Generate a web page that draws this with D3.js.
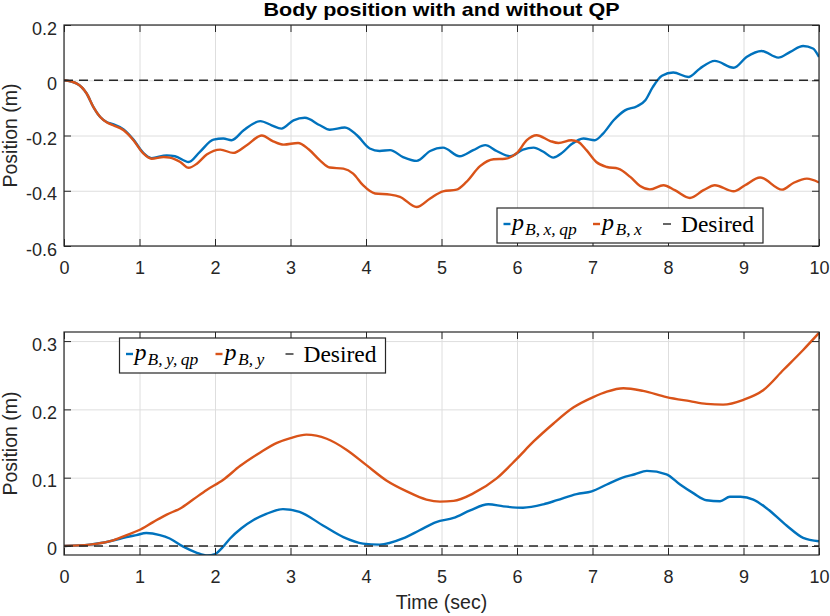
<!DOCTYPE html>
<html><head><meta charset="utf-8">
<script src="https://cdn.jsdelivr.net/npm/d3@7"></script>
<style>body{margin:0;background:#fff} svg{display:block}</style>
</head><body><svg id="c" width="830" height="616"></svg>
<script>
// ---------------- data ----------------
const timeTicks = [0,1,2,3,4,5,6,7,8,9,10];
const timeTickLabels = ["0","1","2","3","4","5","6","7","8","9","10"];
const topYTicks = [-0.6,-0.4,-0.2,0,0.2];
const topYTickLabels = ["-0.6","-0.4","-0.2","0","0.2"];
const botYTicks = [0,0.1,0.2,0.3];
const botYTickLabels = ["0","0.1","0.2","0.3"];
const desiredTime = [0,10];
const desiredPos = [0,0];

// top panel: x position, with QP (blue)
const xqpTime = [0,0.17,0.30,0.39,0.48,0.57,0.65,0.79,0.92,1.05,1.16,1.36,1.47,1.65,1.80,1.98,2.11,2.22,2.38,2.60,2.75,2.88,3.04,3.19,3.39,3.52,3.72,3.88,4.05,4.18,4.32,4.49,4.67,4.85,5.02,5.24,5.42,5.58,5.73,5.91,6.08,6.22,6.35,6.48,6.60,6.72,6.88,7.03,7.14,7.28,7.43,7.59,7.70,7.80,7.92,8.07,8.27,8.42,8.62,8.87,9.04,9.24,9.46,9.62,9.79,9.92,10.0];
const xqpPos = [0,-0.012,-0.048,-0.097,-0.133,-0.152,-0.159,-0.178,-0.215,-0.263,-0.282,-0.272,-0.275,-0.296,-0.259,-0.215,-0.211,-0.217,-0.181,-0.148,-0.163,-0.175,-0.145,-0.136,-0.163,-0.179,-0.171,-0.199,-0.247,-0.256,-0.253,-0.278,-0.292,-0.256,-0.244,-0.275,-0.253,-0.235,-0.256,-0.275,-0.251,-0.244,-0.259,-0.280,-0.262,-0.232,-0.211,-0.217,-0.193,-0.145,-0.109,-0.094,-0.072,-0.024,0.016,0.028,0.012,0.042,0.070,0.045,0.084,0.106,0.082,0.103,0.124,0.115,0.084];
// top panel: x position, without QP (orange)
const xTime = [0,0.17,0.30,0.39,0.48,0.57,0.65,0.79,0.92,1.05,1.16,1.32,1.40,1.54,1.65,1.76,1.89,2.07,2.24,2.42,2.62,2.77,2.91,3.10,3.24,3.39,3.52,3.70,3.83,3.96,4.12,4.32,4.45,4.67,4.85,5.02,5.20,5.33,5.51,5.69,5.84,6.00,6.13,6.26,6.44,6.55,6.72,6.81,6.92,7.05,7.19,7.34,7.50,7.63,7.76,7.94,8.09,8.29,8.47,8.62,8.87,9.02,9.22,9.51,9.66,9.84,10.0];
const xPos = [0,-0.012,-0.048,-0.097,-0.133,-0.153,-0.163,-0.181,-0.217,-0.265,-0.284,-0.278,-0.280,-0.296,-0.317,-0.302,-0.269,-0.251,-0.263,-0.235,-0.200,-0.221,-0.233,-0.227,-0.250,-0.290,-0.316,-0.320,-0.338,-0.380,-0.410,-0.414,-0.422,-0.459,-0.428,-0.402,-0.396,-0.368,-0.311,-0.286,-0.284,-0.263,-0.217,-0.199,-0.220,-0.227,-0.217,-0.223,-0.253,-0.296,-0.314,-0.320,-0.350,-0.383,-0.395,-0.380,-0.398,-0.426,-0.398,-0.380,-0.402,-0.380,-0.352,-0.396,-0.372,-0.356,-0.370];
// bottom panel: y position, with QP (blue)
const yqpTime = [0,0.34,0.61,0.83,0.96,1.09,1.27,1.40,1.58,1.76,1.90,2.00,2.10,2.20,2.35,2.51,2.68,2.90,3.12,3.43,3.70,3.96,4.18,4.49,4.71,4.93,5.16,5.38,5.62,5.82,6.08,6.35,6.53,6.79,6.99,7.19,7.39,7.56,7.72,7.98,8.16,8.34,8.51,8.69,8.82,8.96,9.13,9.31,9.57,9.79,10.0];
const yqpPos = [0,0.002,0.007,0.013,0.016,0.019,0.016,0.011,-0.001,-0.010,-0.014,-0.012,-0.002,0.011,0.026,0.038,0.047,0.054,0.050,0.030,0.013,0.0035,0.002,0.011,0.023,0.035,0.041,0.052,0.061,0.058,0.056,0.061,0.067,0.076,0.080,0.090,0.0997,0.105,0.110,0.105,0.090,0.077,0.067,0.0655,0.072,0.072,0.068,0.055,0.030,0.012,0.007];
// bottom panel: y position, without QP (orange)
const yTime = [0,0.34,0.61,0.83,0.99,1.18,1.36,1.54,1.71,1.89,2.11,2.33,2.60,2.82,3.0,3.21,3.48,3.74,4.01,4.27,4.54,4.80,4.98,5.16,5.42,5.73,6.0,6.22,6.48,6.75,7.01,7.19,7.41,7.67,7.98,8.29,8.51,8.73,9.0,9.26,9.53,9.79,10.0];
const yPos = [0,0.002,0.007,0.016,0.023,0.035,0.046,0.055,0.068,0.082,0.097,0.117,0.137,0.151,0.158,0.163,0.157,0.141,0.118,0.096,0.080,0.068,0.065,0.066,0.077,0.099,0.128,0.153,0.179,0.203,0.218,0.226,0.231,0.227,0.218,0.212,0.208,0.207,0.214,0.228,0.258,0.287,0.312];

const titleText = "Body position with and without QP";
const xLabelText = "Time (sec)";
const yLabelText = "Position (m)";

// ---------------- layout / style ----------------
const BLUE = "#0072BD", ORANGE = "#D95319", AX = "#262626";
const L = 64, R = 819;
const panels = [
  {top:25, bottom:246, domain:[-0.6,0.2], ticks:topYTicks, labels:topYTickLabels,
   series:[[xqpTime,xqpPos,BLUE],[xTime,xPos,ORANGE]],
   legend:{x:497, y:208, v:"x"}},
  {top:332, bottom:555, domain:[-0.0132,0.3133], ticks:botYTicks, labels:botYTickLabels,
   series:[[yqpTime,yqpPos,BLUE],[yTime,yPos,ORANGE]],
   legend:{x:119.5, y:338, v:"y"}}
];
const SANS = "'Liberation Sans', Arial, Helvetica, sans-serif";
const SERIF = "'Liberation Serif', 'Times New Roman', serif";

const svg = d3.select("#c");
const x = d3.scaleLinear().domain([0,10]).range([L,R]);

panels.forEach((p,i) => {
  const y = d3.scaleLinear().domain(p.domain).range([p.bottom,p.top]);
  const h = p.bottom - p.top;
  const g = svg.append("g");
  // grid
  g.append("g").attr("transform",`translate(0,${p.bottom})`)
    .call(d3.axisBottom(x).tickValues(timeTicks).tickSize(-h).tickFormat(""))
    .call(s=>{s.select(".domain").remove(); s.selectAll("line").attr("stroke","#dedede").attr("stroke-width",1);});
  g.append("g").attr("transform",`translate(${L},0)`)
    .call(d3.axisLeft(y).tickValues(p.ticks).tickSize(-(R-L)).tickFormat(""))
    .call(s=>{s.select(".domain").remove(); s.selectAll("line").attr("stroke","#dedede").attr("stroke-width",1);});

  // clip
  const cid = "clip"+i;
  svg.append("clipPath").attr("id",cid).append("rect")
    .attr("x",L).attr("y",p.top).attr("width",R-L).attr("height",h);
  const lines = g.append("g").attr("clip-path",`url(#${cid})`);
  p.series.forEach(([ts,vs,col]) => {
    const line = d3.line().x(d=>x(d[0])).y(d=>y(d[1])).curve(d3.curveMonotoneX);
    lines.append("path").datum(d3.zip(ts,vs))
      .attr("d",line).attr("fill","none").attr("stroke",col)
      .attr("stroke-width",2.4).attr("stroke-linejoin","round");
  });
  const dline = d3.line().x(d=>x(d[0])).y(d=>y(d[1]));
  lines.append("path").datum(d3.zip(desiredTime,desiredPos))
    .attr("d",dline).attr("fill","none").attr("stroke",AX)
    .attr("stroke-width",1.5).attr("stroke-dasharray","9,6");

  // axes
  const styleAx = s => { s.select(".domain").remove(); s.selectAll("line").attr("stroke",AX);
    s.selectAll("text").attr("fill",AX).style("font-family",SANS).style("font-size","18px"); };
  g.append("g").attr("transform",`translate(0,${p.bottom})`)
    .call(d3.axisBottom(x).tickValues(timeTicks).tickSizeInner(-7).tickSizeOuter(0)
      .tickFormat((d,k)=>timeTickLabels[k]).tickPadding(0))
    .call(styleAx)
    .call(s=>s.selectAll("text").attr("y",28).attr("dy",null));
  g.append("g").attr("transform",`translate(0,${p.top})`)
    .call(d3.axisTop(x).tickValues(timeTicks).tickSizeInner(-7).tickSizeOuter(0).tickFormat(""))
    .call(styleAx);
  g.append("g").attr("transform",`translate(${L},0)`)
    .call(d3.axisLeft(y).tickValues(p.ticks).tickSizeInner(-7).tickSizeOuter(0)
      .tickFormat((d,k)=>p.labels[k]).tickPadding(0))
    .call(styleAx)
    .call(s=>s.selectAll("text").attr("x",-7).attr("dy",null).attr("y",9));
  g.append("g").attr("transform",`translate(${R},0)`)
    .call(d3.axisRight(y).tickValues(p.ticks).tickSizeInner(-7).tickSizeOuter(0).tickFormat(""))
    .call(styleAx);
  g.append("rect").attr("x",L).attr("y",p.top).attr("width",R-L).attr("height",h)
    .attr("fill","none").attr("stroke",AX).attr("stroke-width",1.2);

  // y label
  g.append("text").attr("transform",`translate(17,${(p.top+p.bottom)/2}) rotate(-90)`)
    .attr("text-anchor","middle").attr("fill",AX)
    .style("font-family",SANS).style("font-size","19.5px").text(yLabelText);

  // legend
  const lg = g.append("g").attr("transform",`translate(${p.legend.x},${p.legend.y})`);
  lg.append("rect").attr("width",266).attr("height",35).attr("fill","#fff")
    .attr("stroke",AX).attr("stroke-width",1.2);
  const items = [
    {col:BLUE, dx:6.5, tx:15, sx:28, parts:["B,", p.legend.v+",", "qp"]},
    {col:ORANGE, dx:96, tx:105, sx:118.5, parts:["B,", p.legend.v]},
  ];
  items.forEach(it=>{
    lg.append("line").attr("x1",it.dx).attr("x2",it.dx+7).attr("y1",16).attr("y2",16)
      .attr("stroke",it.col).attr("stroke-width",2.4);
    lg.append("text").attr("x",it.tx).attr("y",22).attr("fill","#000")
      .style("font-family",SERIF).style("font-style","italic").style("font-size","24px").text("p");
    const st = lg.append("text").attr("x",it.sx).attr("y",27).attr("fill","#000")
      .style("font-family",SERIF).style("font-style","italic").style("font-size","17.5px");
    it.parts.forEach((s,k)=>st.append("tspan").attr("dx",k?3.5:0).text(s));
  });
  lg.append("line").attr("x1",166).attr("x2",174).attr("y1",16).attr("y2",16)
    .attr("stroke","#000").attr("stroke-width",1.2);
  lg.append("text").attr("x",184).attr("y",23.5).attr("fill","#000")
    .attr("textLength",73).attr("lengthAdjust","spacingAndGlyphs")
    .style("font-family",SERIF).style("font-size","23.5px").text("Desired");
});

svg.append("text").attr("x",(L+R)/2).attr("y",16).attr("text-anchor","middle")
  .attr("fill","#000").attr("textLength",356).attr("lengthAdjust","spacingAndGlyphs")
  .style("font-family",SANS).style("font-weight","bold")
  .style("font-size","19px").text(titleText);
svg.append("text").attr("x",(L+R)/2).attr("y",609).attr("text-anchor","middle")
  .attr("fill",AX).style("font-family",SANS).style("font-size","19.5px").text(xLabelText);
</script></body></html>
